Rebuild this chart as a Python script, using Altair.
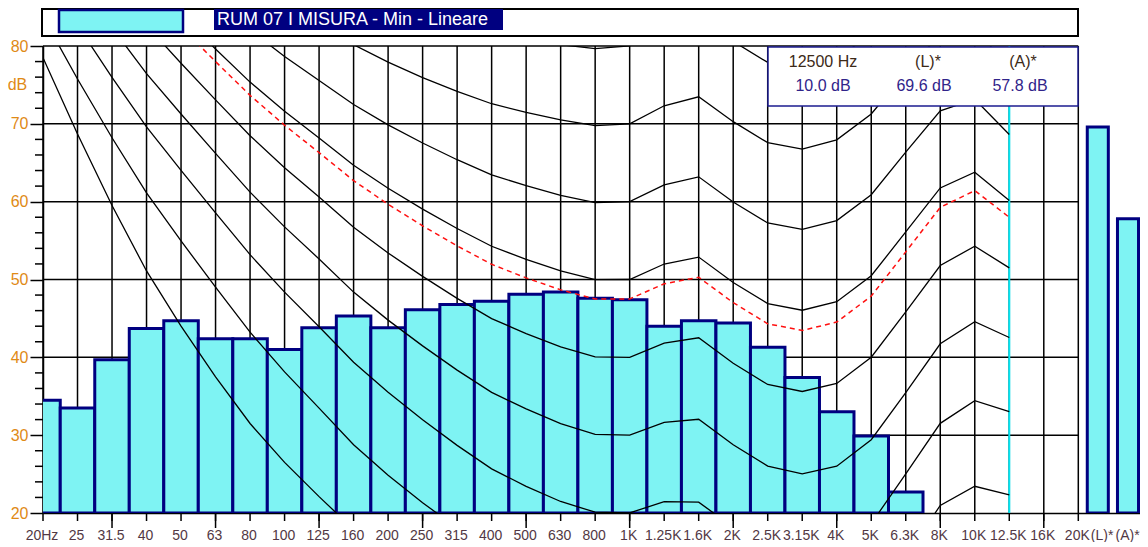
import json
import altair as alt
import pandas as pd

# ---------------- data ----------------
bands = ["20Hz", "25", "31.5", "40", "50", "63", "80", "100", "125", "160", "200",
         "250", "315", "400", "500", "630", "800", "1K", "1.25K", "1.6K", "2K",
         "2.5K", "3.15K", "4K", "5K", "6.3K", "8K", "10K", "12.5K", "16K", "20K"]
levels = [34.5, 33.5, 39.7, 43.7, 44.7, 42.4, 42.4, 41.0, 43.8, 45.3, 43.8,
          46.1, 46.8, 47.2, 48.1, 48.4, 47.6, 47.4, 44.0, 44.7, 44.4,
          41.3, 37.4, 33.0, 29.9, 22.7, 16.5, 13.0, 10.0, 8.0, 6.5]
total_labels = ["(L)*", "(A)*"]
totals = [69.6, 57.8]
cursor_band = "12.5K"
cursor_text = "12500 Hz"
series_title = "RUM 07 I MISURA - Min - Lineare"

# equal-loudness contours (20 Hz .. 12.5 kHz), dB
contour_threshold = [78.5, 68.7, 59.5, 51.1, 44.0, 37.5, 31.5, 26.5, 22.1, 17.9, 14.4, 11.4, 8.6, 6.2, 4.4,
                     3.0, 2.2, 2.4, 3.5, 1.7, -1.3, -4.2, -6.0, -5.4, -1.5, 6.0, 12.6, 13.9, 12.3]
contour_10 = [83.75, 75.76, 68.21, 61.13, 54.96, 49.01, 43.24, 38.13, 33.48, 28.77, 24.84, 21.33, 18.05, 15.14,
              12.98, 11.18, 9.99, 10.0, 11.26, 10.43, 7.27, 4.45, 3.04, 3.80, 7.46, 14.35, 20.98, 23.43, 22.32]
contour_20 = [89.58, 82.65, 75.98, 69.62, 64.02, 58.55, 53.19, 48.38, 43.94, 39.37, 35.51, 31.99, 28.69, 25.67,
              23.43, 21.48, 20.10, 20.01, 21.46, 21.40, 18.15, 15.38, 14.26, 15.14, 18.64, 25.02, 31.52, 34.43, 33.04]
contour_30 = [94.85, 88.52, 82.36, 76.45, 71.26, 66.20, 61.22, 56.76, 52.64, 48.38, 44.78, 41.47, 38.36, 35.50,
              33.37, 31.49, 30.11, 30.01, 31.64, 32.04, 28.76, 26.03, 25.04, 26.02, 29.42, 35.48, 41.74, 44.57, 42.55]
contour_40 = [99.85, 93.94, 88.17, 82.63, 77.79, 73.08, 68.48, 64.37, 60.59, 56.70, 53.41, 50.40, 47.58, 44.98,
              43.05, 41.34, 40.06, 40.0, 41.82, 42.51, 39.23, 36.51, 35.61, 36.65, 40.01, 45.83, 51.80, 54.28, 51.49]
contour_50 = [104.72, 99.14, 93.70, 88.49, 83.96, 79.61, 75.36, 71.61, 68.17, 64.68, 61.72, 59.04, 56.55, 54.27,
              52.59, 51.10, 49.98, 50.0, 51.99, 52.88, 49.62, 46.91, 46.05, 47.15, 50.48, 56.11, 61.76, 63.78, 60.14]
contour_60 = [None, None, None, None, None, 85.94, 82.05, 78.66, 75.56, 72.48, 69.87, 67.54, 65.39, 63.45,
              62.05, 60.82, 59.89, 60.0, 62.16, 63.19, 59.96, 57.26, 56.43, 57.57, 60.89, 66.36, 71.67, 73.16, 68.63]
contour_70 = [None, None, None, None, None, None, None, None, 82.85, 80.17, 77.92, 75.94, 74.16, 72.58,
              71.47, 70.50, 69.78, 70.0, 72.32, 73.47, 70.28, 67.58, 66.76, 67.95, 71.26, 76.59, 81.54, 82.46, 77.04]
contour_80 = [None, None, None, None, None, None, None, None, None, None, None, None, None, 81.68,
              80.86, 80.17, 79.67, 80.01, 82.48, 83.74, 80.59, 77.89, 77.08, 78.31, 81.62, 86.81, None, None, None]
measured_contour = [None, None, None, 87.04, 82.44, 78.00, 73.66, 69.82, 66.30, 62.71, 59.66, 56.90, 54.32, 51.95,
                    50.21, 48.67, 47.50, 47.51, 49.45, 50.29, 47.03, 44.31, 43.45, 44.53, 47.87, 53.55, 59.27, 61.42, 57.99]

grid_levels = [30, 40, 50, 60, 70, 80]
minor_levels = [v for v in range(20, 81, 2) if v % 10]

# ---------------- layout ----------------
W, H = 1097, 467
PX_PER_BAND = 34.51
X_MAX = W / PX_PER_BAND
TOTAL_POS = [30.565, 31.44]
TOTAL_LABEL_POS = [30.72, 31.46]
TOTAL_HALF = 0.305
FONT = "Liberation Sans"
NAVY = "#000080"
CYAN_FILL = "#7ef3f3"
ORANGE = "#e08a16"
XLAB = "#523844"
NB = "\u00a0"

xs = alt.Scale(domain=[0, X_MAX], nice=False, zero=False)
ys = alt.Scale(domain=[20, 80], nice=False, zero=False)

n = len(bands)
axis_vals = list(range(n)) + TOTAL_LABEL_POS
label_list = [NB * 4 + bands[0]] + bands[1:] + total_labels
label_expr = "[" + ",".join("'" + s + "'" for s in label_list) + "][indexof(" + json.dumps(axis_vals) + ", datum.value)]"

x_axis = alt.Axis(values=axis_vals, labelExpr=label_expr, ticks=False, grid=False,
                  domainColor="black", domainWidth=1.5, labelFont=FONT, labelFontSize=14,
                  labelColor=XLAB, labelPadding=15, labelOverlap=False, labelFlush=False,
                  labelOffset=-1.5, labelAngle=0, title=None)
y_axis = alt.Axis(values=list(range(20, 81, 10)), tickSize=13, tickColor="black", tickWidth=1.5,
                  domainColor="black", domainWidth=1.5, grid=False, labelFont=FONT, labelFontSize=16,
                  labelColor=ORANGE, labelPadding=2, title="dB", titleAngle=0, titleFont=FONT,
                  titleFontSize=16, titleFontWeight="normal", titleColor=ORANGE, titleX=-26, titleY=38,
                  titleAlign="center", titleBaseline="middle")

# ---------------- tables ----------------
df_v = pd.DataFrame({"pos": list(range(n)), "lo": 20, "hi": 80})
df_h = pd.DataFrame({"val": grid_levels, "x0": 0, "x1": n - 1})

bars = pd.DataFrame({"band": bands, "val": levels, "pos": list(range(n))})
bars["x1"] = bars["pos"] - 0.5
bars["x2"] = bars["pos"] + 0.5
tot = pd.DataFrame({"band": total_labels, "val": totals, "pos": TOTAL_POS})
tot["x1"] = tot["pos"] - TOTAL_HALF
tot["x2"] = tot["pos"] + TOTAL_HALF
df_bars = pd.concat([bars, tot], ignore_index=True)
df_bars["base"] = 20
df_bars = df_bars[df_bars["val"] >= 20]

curves = {"Tf": contour_threshold, "10": contour_10, "20": contour_20, "30": contour_30,
          "40": contour_40, "50": contour_50, "60": contour_60, "70": contour_70, "80": contour_80}
rows = []
for name, arr in curves.items():
    for i, v in enumerate(arr):
        if v is not None:
            rows.append({"curve": name, "pos": i, "val": v})
df_curves = pd.DataFrame(rows)
df_red = pd.DataFrame([{"pos": i, "val": v} for i, v in enumerate(measured_contour) if v is not None])

df_cursor = pd.DataFrame({"pos": [bands.index(cursor_band)], "lo": [20], "hi": [80]})
df_ticks = pd.DataFrame({"pos": list(range(n))})
df_ticks_long = pd.DataFrame({"pos": [i for i in range(n) if i % 3 == 2]})
df_minor = pd.DataFrame({"val": minor_levels})

X = lambda f: alt.X(f, scale=xs, axis=x_axis)
Y = lambda f: alt.Y(f, scale=ys, axis=y_axis)

vgrid = alt.Chart(df_v).mark_rule(color="black", strokeWidth=1.5).encode(x=X("pos:Q"), y=Y("lo:Q"), y2="hi:Q")
hgrid = alt.Chart(df_h).mark_rule(color="black", strokeWidth=1.5).encode(y=Y("val:Q"), x=X("x0:Q"), x2="x1:Q")
cursor = alt.Chart(df_cursor).mark_rule(color="#00e6f2", strokeWidth=2).encode(x=X("pos:Q"), y=Y("lo:Q"), y2="hi:Q")
bar_layer = alt.Chart(df_bars).mark_rect(clip=True, fill=CYAN_FILL, stroke=NAVY, strokeWidth=3).encode(
    x=X("x1:Q"), x2="x2:Q", y=Y("val:Q"), y2="base:Q")
curve_layer = alt.Chart(df_curves).mark_line(clip=True, color="black", strokeWidth=1.3).encode(
    x=X("pos:Q"), y=Y("val:Q"), detail="curve:N")
red_layer = alt.Chart(df_red).mark_line(clip=True, color="#ff1010", strokeWidth=1.5, strokeDash=[5, 4]).encode(
    x=X("pos:Q"), y=Y("val:Q"))
ticks_short = alt.Chart(df_ticks).mark_rule(color="black", strokeWidth=1.5).encode(
    x=X("pos:Q"), y=alt.value(H), y2=alt.value(H + 8))
ticks_long = alt.Chart(df_ticks_long).mark_rule(color="black", strokeWidth=1.5).encode(
    x=X("pos:Q"), y=alt.value(H), y2=alt.value(H + 15))
minor = alt.Chart(df_minor).mark_rule(color="black", strokeWidth=1.5).encode(
    y=Y("val:Q"), x=alt.value(-8), x2=alt.value(0))

# info box
cidx = bands.index(cursor_band)
info_box = alt.Chart(pd.DataFrame({"k": [0]})).mark_rect(fill="white", stroke="#1c1c90", strokeWidth=1.5).encode(
    x=alt.value(725), x2=alt.value(1035), y=alt.value(1), y2=alt.value(60))


def txt(s, xv, yv, color, size=16, align="center"):
    return alt.Chart(pd.DataFrame({"t": [s]})).mark_text(
        font=FONT, fontSize=size, color=color, align=align, baseline="alphabetic").encode(
        text="t:N", x=alt.value(xv), y=alt.value(yv))


row1 = "#3c2a18"
row2 = "#30248a"
info_texts = [
    txt(cursor_text, 780, 21, row1), txt(total_labels[0], 885, 21, row1), txt(total_labels[1], 980, 21, row1),
    txt(f"{levels[cidx]:.1f} dB", 780, 45, row2), txt(f"{totals[0]:.1f} dB", 881, 45, row2),
    txt(f"{totals[1]:.1f} dB", 977, 45, row2),
]

# legend
legend_box = alt.Chart(pd.DataFrame({"k": [0]})).mark_rect(fill="white", stroke="black", strokeWidth=2).encode(
    x=alt.value(-1), x2=alt.value(1035), y=alt.value(-37), y2=alt.value(-10))
swatch = alt.Chart(pd.DataFrame({"k": [0]})).mark_rect(fill=CYAN_FILL, stroke=NAVY, strokeWidth=2.5).encode(
    x=alt.value(16), x2=alt.value(140), y=alt.value(-36), y2=alt.value(-14))
title_bg = alt.Chart(pd.DataFrame({"k": [0]})).mark_rect(fill=NAVY).encode(
    x=alt.value(171), x2=alt.value(460), y=alt.value(-37), y2=alt.value(-16))
title_txt = txt(series_title, 174, -21, "white", size=18, align="left")

chart = alt.layer(
    vgrid, hgrid, cursor, bar_layer, curve_layer, red_layer, ticks_short, ticks_long, minor,
    info_box, *info_texts, legend_box, swatch, title_bg, title_txt
).properties(
    width=W, height=H,
    autosize=alt.AutoSizeParams(type="none"),
    padding={"left": 35, "top": 38, "right": 0, "bottom": 29},
    background="white",
).configure_view(stroke=None)

chart.save("out.html", embed_options={"renderer": "svg", "actions": False})
